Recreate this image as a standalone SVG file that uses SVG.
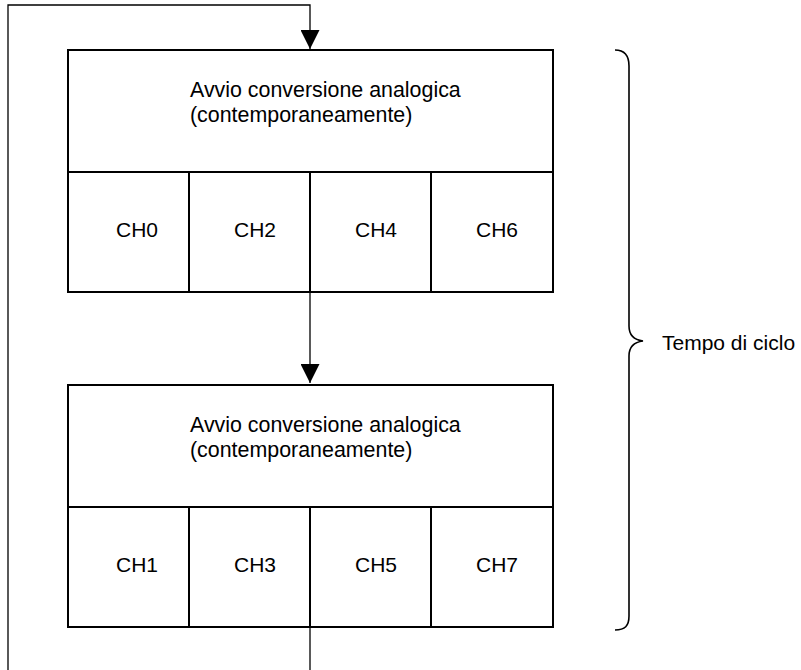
<svg xmlns="http://www.w3.org/2000/svg" width="801" height="670" viewBox="0 0 801 670">
<defs>
<style>
.box{fill:#fff;stroke:#000;stroke-width:2}
.ln{fill:none;stroke:#000;stroke-width:1.3}
.br{fill:none;stroke:#000;stroke-width:1.6}
.t{font-family:"Liberation Sans",Arial,sans-serif;font-size:21px;fill:#000}
.a{font-size:21.4px}
</style>
<marker id="arr" markerUnits="userSpaceOnUse" markerWidth="20" markerHeight="19" refX="19" refY="9.5" orient="auto">
<path d="M0,0 L19,9.5 L0,19 Z" fill="#000"/>
</marker>
</defs>
<rect width="801" height="670" fill="#fff"/>
<g id="connectors">
<path class="ln" d="M8,670 L8,5 L310,5 L310,49" marker-end="url(#arr)"/>
<path class="ln" d="M310,292 L310,383" marker-end="url(#arr)"/>
<path class="ln" d="M310,627 L310,670"/>
</g>
<g id="block1">
<rect class="box" x="68" y="50" width="485" height="242"/>
<line class="box" x1="68" y1="172" x2="553" y2="172"/>
<line class="box" x1="189" y1="172" x2="189" y2="292"/>
<line class="box" x1="310" y1="172" x2="310" y2="292"/>
<line class="box" x1="431" y1="172" x2="431" y2="292"/>
<text class="t a" x="190" y="97">Avvio conversione analogica</text>
<text class="t a" x="190" y="122">(contemporaneamente)</text>
<text class="t" x="116" y="237">CH0</text>
<text class="t" x="234" y="237">CH2</text>
<text class="t" x="355" y="237">CH4</text>
<text class="t" x="476" y="237">CH6</text>
</g>
<g id="block2">
<rect class="box" x="68" y="385" width="485" height="242"/>
<line class="box" x1="68" y1="507" x2="553" y2="507"/>
<line class="box" x1="189" y1="507" x2="189" y2="627"/>
<line class="box" x1="310" y1="507" x2="310" y2="627"/>
<line class="box" x1="431" y1="507" x2="431" y2="627"/>
<text class="t a" x="190" y="432">Avvio conversione analogica</text>
<text class="t a" x="190" y="457">(contemporaneamente)</text>
<text class="t" x="116" y="572">CH1</text>
<text class="t" x="234" y="572">CH3</text>
<text class="t" x="355" y="572">CH5</text>
<text class="t" x="476" y="572">CH7</text>
</g>
<g id="brace">
<path class="br" d="M615,50 C625,50 629,56 629,66 L629,326 C629,336 635,340 643,341 C635,342 629,346 629,356 L629,616 C629,626 625,630 615,630"/>
<text class="t" x="662" y="350">Tempo di ciclo</text>
</g>
</svg>
